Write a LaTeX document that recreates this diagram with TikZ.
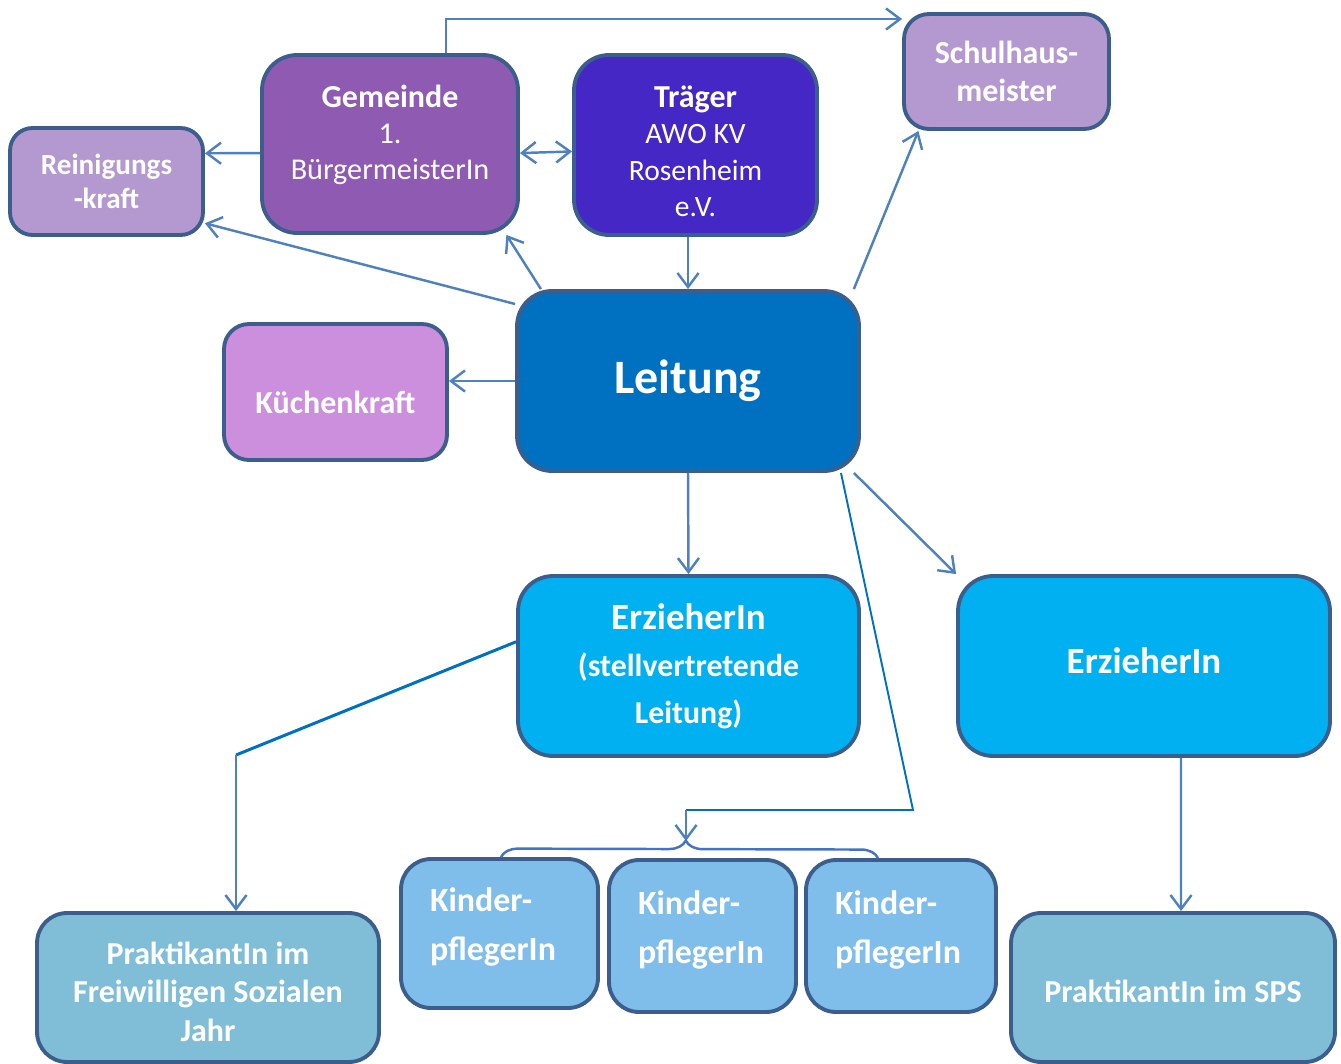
\documentclass[tikz,border=0pt]{standalone}
\usepackage{fontspec}
\setmainfont{Carlito}
\usepackage{xcolor}
\usepackage{tikz}
\usetikzlibrary{arrows.meta,decorations.pathreplacing}
\definecolor{framecol}{RGB}{59,94,140}
\definecolor{arrowcol}{RGB}{79,129,189}
\definecolor{darkcol}{RGB}{0,112,192}
\definecolor{bracecol}{RGB}{68,114,196}
\definecolor{gemcol}{RGB}{142,90,178}
\definecolor{traecol}{RGB}{69,39,197}
\definecolor{helfcol}{RGB}{180,152,208}
\definecolor{kuechcol}{RGB}{204,143,222}
\definecolor{leitcol}{RGB}{0,112,192}
\definecolor{erzcol}{RGB}{0,176,240}
\definecolor{kindcol}{RGB}{127,189,235}
\definecolor{praktcol}{RGB}{128,190,216}
\newcommand{\fsz}[2]{\fontsize{#1}{#2}\selectfont}
\tikzstyle{block} = [rectangle, draw=framecol, line width=2.2pt, rounded corners=0.6cm, text=white, align=center, inner sep=0pt]
\tikzstyle{kindblock} = [block, fill=kindcol, align=left, inner xsep=0.58cm, text height=0.48cm, text depth=1.36cm, font=\bfseries\fsz{19.3}{27.9}]
\tikzstyle{line} = [draw=arrowcol, line width=1.4pt, -{Straight Barb[length=8pt,width=12pt]}]
\tikzstyle{twoway} = [draw=arrowcol, line width=1.4pt, {Straight Barb[length=8pt,width=12pt]}-{Straight Barb[length=8pt,width=12pt]}]
\tikzstyle{link} = [draw=darkcol, line width=1.7pt]
\tikzstyle{thinlink} = [draw=darkcol, line width=1.1pt]
\tikzstyle{bracket} = [draw=bracecol, line width=1.4pt, decorate, decoration={brace, amplitude=0.34cm, aspect=0.49}]

\begin{document}
\begin{tikzpicture}[x=0.02cm, y=-0.02cm]
\useasboundingbox (0,0) rectangle (1341,1064);
% obere Reihe
\node [block, fill=helfcol, rounded corners=0.45cm, minimum width=3.86cm, minimum height=2.14cm, font=\bfseries\fsz{16.6}{19.4}] (reinigung) at (106.5,181.5) {Reinigungs\\-kraft};
\node [block, fill=gemcol, rounded corners=0.7cm, minimum width=5.12cm, minimum height=3.56cm, font=\fsz{17.2}{20.6}, text height=1.66cm, text depth=0.22cm] (gemeinde) at (390,144) {{\fsz{18.2}{20.6}\bfseries Gemeinde}\\1.\\BürgermeisterIn};
\node [block, fill=traecol, rounded corners=0.7cm, minimum width=4.86cm, minimum height=3.6cm, font=\fsz{16.8}{20.7}, text height=3.09cm, text depth=0.23cm] (traeger) at (695.5,145) {{\fsz{18.2}{20.7}\bfseries Träger}\\AWO KV\\Rosenheim\\e.V.};
\node [block, fill=helfcol, rounded corners=0.5cm, minimum width=4.1cm, minimum height=2.3cm, font=\bfseries\fsz{18.2}{22}] (schulhaus) at (1006.5,71.5) {Schulhaus-\\meister};
% Mitte
\node [block, fill=leitcol, rounded corners=0.7cm, minimum width=6.84cm, minimum height=3.6cm, font=\bfseries\fsz{27.3}{32}] (leitung) at (688,381) {Leitung};
\node [block, fill=kuechcol, rounded corners=0.5cm, minimum width=4.46cm, minimum height=2.72cm, font=\bfseries\fsz{18.2}{22}, text height=1.08cm, text depth=0.2cm] (kueche) at (335.5,392) {Küchenkraft};
\node [block, fill=erzcol, rounded corners=0.7cm, minimum width=6.82cm, minimum height=3.6cm, font=\bfseries\fsz{18.1}{26.7}] (erzieherA) at (688.5,666) {{\fsz{21}{26.7}ErzieherIn}\\(stellvertretende\\Leitung)};
\node [block, fill=erzcol, rounded corners=0.7cm, minimum width=7.44cm, minimum height=3.6cm, font=\bfseries\fsz{21}{26}, text height=0.5cm, text depth=0.19cm] (erzieherB) at (1144,666) {ErzieherIn};
% untere Reihe
\node [block, fill=praktcol, minimum width=6.84cm, minimum height=2.98cm, font=\bfseries\fsz{18.2}{22}, text height=2.2cm, text depth=0.04cm] (fsj) at (208,987.5) {PraktikantIn im\\Freiwilligen Sozialen\\Jahr};
\node [kindblock, text width=2.78cm, minimum height=2.98cm] (kinder1) at (499.5,933.5) {Kinder-\\pflegerIn};
\node [kindblock, text width=2.58cm, minimum height=3.04cm] (kinder2) at (702.5,936) {Kinder-\\pflegerIn};
\node [kindblock, text width=2.64cm, minimum height=3.04cm] (kinder3) at (901,936) {Kinder-\\pflegerIn};
\node [block, fill=praktcol, minimum width=6.48cm, minimum height=2.98cm, font=\bfseries\fsz{18.2}{22}, text height=0.61cm, text depth=0cm] (sps) at (1173,987.5) {PraktikantIn im SPS};

\coordinate (gtop) at (446,19);
\coordinate (kbend) at (913,810);
\coordinate (kmid) at (686,810);
\coordinate (btip) at (686,841);
\coordinate (fbend) at (236,755);

\path [line] (gemeinde.184) -- (reinigung.16.5);
\path [twoway] (gemeinde.-4) -- (traeger.183.8);
\path [line] (gemeinde.north -| gtop) -- (gtop) -- (schulhaus.west |- gtop);
\path [line] (traeger.south -| leitung.north) -- (leitung.north);
\path [line] (leitung.148.7) -- (gemeinde.-38.7);
\path [line] (leitung.156.6) -- (reinigung.-23.3);
\path [line] (leitung.west) -- (kueche.east |- leitung.west);
\path [line] (leitung.29.9) -- (schulhaus.-146.7);
\path [line] (leitung.south) -- (erzieherA.north);
\path [line] (leitung.-29.4) -- (erzieherB.north west);
\draw [thinlink] (leitung.-31) -- (kbend) -- (kmid);
\path [line] (kmid) -- (btip);
\draw [bracket] ([xshift=0.03cm]kinder1.north) -- ([xshift=-0.46cm]kinder3.north);
\draw [link] (erzieherA.172.3) -- (fbend);
\path [line] (fbend) -- (fbend |- fsj.north);
\path [line] ([xshift=0.74cm]erzieherB.south) -- ([xshift=0.16cm]sps.north);
\end{tikzpicture}
\end{document}
